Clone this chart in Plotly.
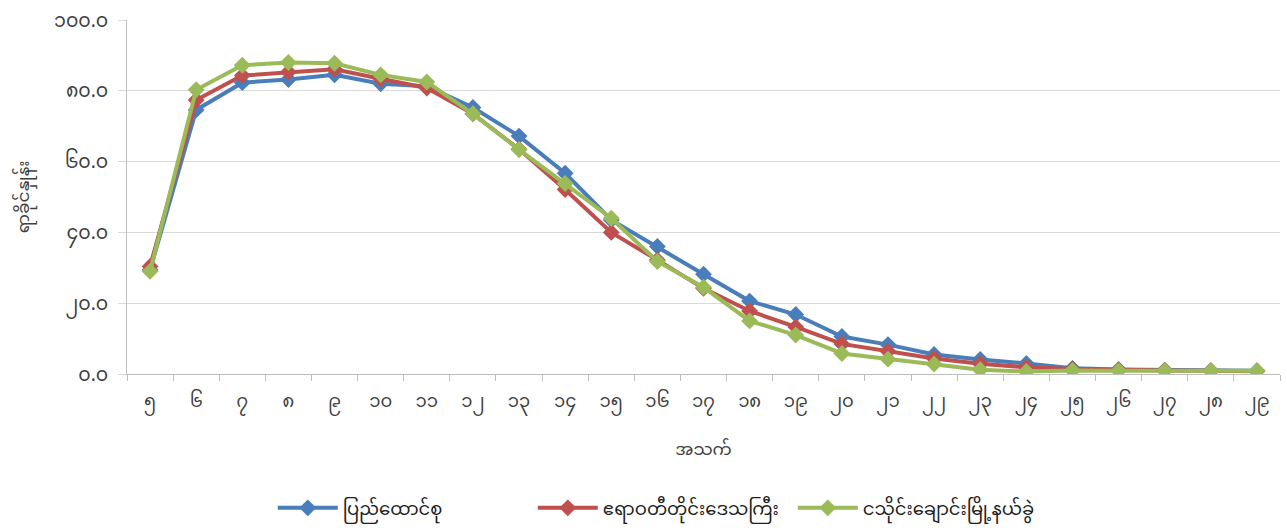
import plotly.graph_objects as go

ages = ["၅", "၆", "၇", "၈", "၉", "၁၀", "၁၁", "၁၂", "၁၃", "၁၄", "၁၅", "၁၆", "၁၇",
        "၁၈", "၁၉", "၂၀", "၂၁", "၂၂", "၂၃", "၂၄", "၂၅", "၂၆", "၂၇", "၂၈", "၂၉"]

union = [29.4, 74.6, 82.3, 83.2, 84.5, 82.0, 81.3, 75.3, 67.2, 56.7, 43.5, 36.0,
         28.2, 20.6, 16.8, 10.6, 8.3, 5.5, 4.1, 3.0, 1.6, 1.3, 1.1, 0.9, 0.9]
ayeyarwady = [30.4, 77.4, 84.3, 85.3, 86.1, 83.4, 80.8, 73.5, 63.5, 52.1, 40.0, 32.2,
              24.2, 17.8, 13.3, 8.5, 6.4, 4.4, 2.9, 1.9, 1.4, 1.1, 1.0, 0.9, 0.8]
ngathaingchaung = [29.0, 80.3, 87.2, 88.0, 87.8, 84.5, 82.5, 73.5, 63.4, 53.8, 44.0, 31.8,
                   24.5, 15.0, 11.0, 5.8, 4.2, 2.8, 1.2, 0.7, 1.0, 0.9, 0.9, 0.9, 0.9]

series_names = ["ပြည်ထောင်စု", "ဧရာဝတီတိုင်းဒေသကြီး", "ငသိုင်းချောင်းမြို့နယ်ခွဲ"]
colors = ["#4A7EBB", "#C0504D", "#9BBB59"]
y_ticks = [0, 20, 40, 60, 80, 100]
y_tick_labels = ["၀.၀", "၂၀.၀", "၄၀.၀", "၆၀.၀", "၈၀.၀", "၁၀၀.၀"]

font_family = "Noto Sans Myanmar, Padauk, Myanmar Text, Noto Sans, DejaVu Sans, sans-serif"

fig = go.Figure()
for name, vals, col in zip(series_names, [union, ayeyarwady, ngathaingchaung], colors):
    fig.add_trace(go.Scatter(
        x=ages, y=vals, name=name, mode="lines+markers",
        line=dict(color=col, width=4),
        marker=dict(symbol="diamond", size=13, color=col),
    ))

fig.update_layout(
    width=1287, height=531,
    margin=dict(l=127, r=7, t=20, b=157, autoexpand=False),
    plot_bgcolor="white", paper_bgcolor="white",
    font=dict(family=font_family, size=14, color="#404040"),
    legend=dict(orientation="h", xref="container", yref="container",
                x=0.515, xanchor="center", y=0.043, yanchor="middle",
                font=dict(size=18, color="#202020"), itemwidth=60,
                entrywidth=185, entrywidthmode="pixels"),
    showlegend=True,
)
fig.update_xaxes(
    type="category", range=[-0.5, len(ages) - 0.5], automargin=False,
    showline=True, linecolor="#BFBFBF", linewidth=1,
    ticks="outside", tickson="boundaries", ticklen=6, tickcolor="#BFBFBF",
    showgrid=False, tickfont=dict(size=18, color="#404040"), ticklabelstandoff=10,
    title=dict(text="အသက်", font=dict(size=17, color="#404040"), standoff=22),
)
fig.update_yaxes(
    range=[0, 100], tickvals=y_ticks, ticktext=y_tick_labels, automargin=False,
    ticklabeloverflow="allow",
    showline=True, linecolor="#BFBFBF", linewidth=1,
    showgrid=True, gridcolor="#D9D9D9", gridwidth=1, zeroline=False,
    ticks="outside", ticklen=8, tickcolor="#D9D9D9",
    tickfont=dict(size=19, color="#404040"), ticklabelstandoff=6,
    title=dict(text="ရာခိုင်နှုန်း", font=dict(size=17, color="#404040"), standoff=20),
)

fig.write_html("out.html", config={"displayModeBar": False},
               post_script="document.body.style.margin='0';")
